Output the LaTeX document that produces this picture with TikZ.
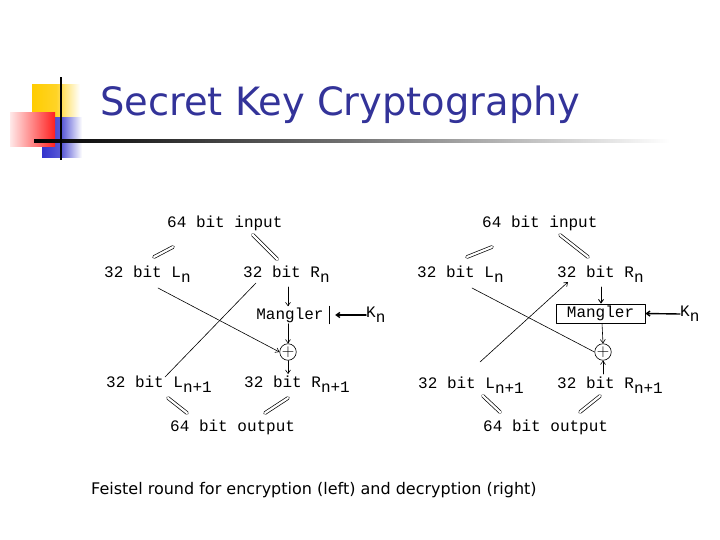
\documentclass[tikz,border=0pt]{standalone}
\usepackage{fontspec}
\usepackage{graphicx}
\usetikzlibrary{arrows.meta,calc,positioning}
\setmainfont{DejaVu Sans}
\newfontfamily\monofont{Liberation Mono}
\definecolor{TitleBlue}{HTML}{333399}
\definecolor{DecoYellow}{HTML}{FFCC00}
\definecolor{DecoRed}{HTML}{FF2020}
\definecolor{DecoBlue}{HTML}{3333CC}
\newcommand{\bitsub}[1]{\raisebox{-5pt}{#1}}

\begin{document}
\begin{tikzpicture}[x=1pt,y=-1pt,
      line cap=round,line join=round,
      lbl/.style={font=\monofont\fontsize{16}{16}\selectfont,inner sep=0pt,
        anchor=base west},
      dbl/.style={double,double distance=2.2pt,line width=0.7pt},
      arr/.style={-{Straight Barb[length=3.5pt,width=5pt]},line width=0.6pt},
      karr/.style={-{Straight Barb[length=3.5pt,width=5pt]},line width=1.4pt},
      xorsym/.style={circle,draw,line width=0.6pt,minimum size=15pt,
        inner sep=0pt,font=\fontsize{17}{17}\selectfont}]
    \useasboundingbox (0,0) rectangle (720,540);
    % slide decoration
    \shade[left color=DecoYellow,right color=white,middle color=DecoYellow!85]
      (32,85) rectangle (80,118);
    \shade[left color=DecoBlue,right color=white,middle color=DecoBlue!80]
      (42,118) rectangle (82,158);
    \shade[left color=DecoRed!10,right color=DecoRed]
      (10,113) rectangle (55,147);
    \shade[left color=black,right color=white,middle color=black!55]
      (34,140) rectangle (670,142.5);
    \fill[black] (60,77) rectangle (62,160);
    \node[anchor=base west,inner sep=0pt,text=TitleBlue] (title) at (100,116)
      {\scalebox{0.985}[1]{\fontsize{39}{39}\selectfont Secret Key Cryptography}};

    % encryption (left)
    \node[lbl] (ein) at (167,228) {64 bit input};
    \node[lbl] (eln) at (104,277) {32 bit L\bitsub{n}};
    \node[lbl] (ern) at (243,277) {32 bit R\bitsub{n}};
    \node[lbl,anchor=center,minimum width=78pt,minimum height=17pt] (emang)
      at (290,315) {Mangler};
    \draw[line width=0.7pt] (emang.north east) -- (emang.south east);
    \node[lbl,anchor=west] (ekn) at (366,315) {K\bitsub{n}};
    \node[xorsym] (exor) at (288,352) {$+$};
    \node[lbl] (eln1) at (106,387) {32 bit L\bitsub{n+1}};
    \node[lbl] (ern1) at (244,387) {32 bit R\bitsub{n+1}};
    \node[lbl] (eout) at (170,431) {64 bit output};

    \coordinate (ea1) at (173,247);
    \coordinate (ea2) at (154,257);
    \coordinate (eb1) at (253,235);
    \coordinate (eb2) at (277,259);
    \coordinate (ec1) at (168,398);
    \coordinate (ec2) at (187,413);
    \coordinate (ed1) at (288,398);
    \coordinate (ed2) at (265,413);
    \coordinate (elx) at (158,288);
    \coordinate (erx) at (256,283);
    \coordinate (elx1) at (165,377);
    \draw[dbl] (ea1) -- (ea2);
    \draw[dbl] (eb1) -- (eb2);
    \draw[dbl] (ec1) -- (ec2);
    \draw[dbl] (ed1) -- (ed2);
    \draw[arr] (288,287) -- (emang.north -| 288,0);
    \draw[karr] (ekn.west) -- ([xshift=6pt]emang.east);
    \draw[arr] (emang.south -| 288,0) -- (exor.north);
    \draw[arr] (elx) -- (exor.west);
    \draw[line width=0.6pt] (erx) -- (elx1);
    \draw[arr] (exor.south) -- (288,374);

    % decryption (right)
    \node[lbl] (din) at (482,228) {64 bit input};
    \node[lbl] (dln) at (417,277) {32 bit L\bitsub{n}};
    \node[lbl] (drn) at (557,277) {32 bit R\bitsub{n}};
    \node[lbl,anchor=center,draw,line width=0.7pt,minimum width=89pt,
      minimum height=19pt] (dmang) at (600.5,313.5) {Mangler};
    \node[lbl,anchor=west] (dkn) at (680,314) {K\bitsub{n}};
    \node[xorsym] (dxor) at (603,352) {$+$};
    \node[lbl] (dln1) at (418,388) {32 bit L\bitsub{n+1}};
    \node[lbl] (drn1) at (557,388) {32 bit R\bitsub{n+1}};
    \node[lbl] (dout) at (483,431) {64 bit output};

    \coordinate (da1) at (492,247);
    \coordinate (da2) at (467,257);
    \coordinate (db1) at (560,235);
    \coordinate (db2) at (588,257);
    \coordinate (dc1) at (483,396);
    \coordinate (dc2) at (500,412);
    \coordinate (dd1) at (600,396);
    \coordinate (dd2) at (580,412);
    \coordinate (dlx) at (472,288);
    \coordinate (dlx1) at (480,362);
    \coordinate (drx) at (568,282);
    \draw[dbl] (da1) -- (da2);
    \draw[dbl] (db1) -- (db2);
    \draw[dbl] (dc1) -- (dc2);
    \draw[dbl] (dd1) -- (dd2);
    \draw[karr,line width=0.9pt] (601,287) -- (dmang.north -| 601,0);
    \draw[karr] (dkn.west) -- (dmang.east);
    \draw[arr] (dmang.south -| 602,0) -- (dxor.north);
    \draw[line width=0.6pt] (dlx) -- (dxor.west);
    \draw[arr] (dlx1) -- (drx);
    \draw[arr] (603,374) -- (dxor.south);

    \node[anchor=west,inner sep=0pt] (caption) at (91,490)
      {\fontsize{16}{16}\selectfont Feistel round for encryption (left) and decryption (right)};
  \end{tikzpicture}
\end{document}
